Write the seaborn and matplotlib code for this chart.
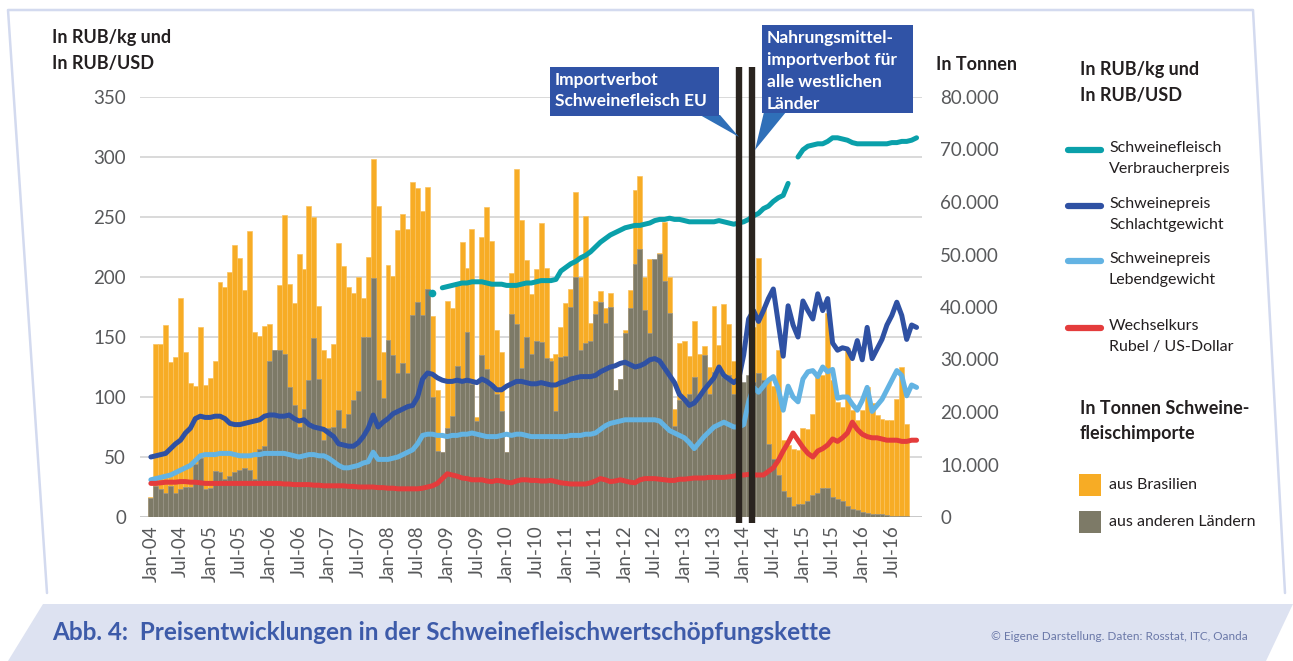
import numpy as np
import pandas as pd
import matplotlib
matplotlib.use("Agg")
import matplotlib.pyplot as plt
from matplotlib.patches import Polygon, Rectangle
import seaborn as sns

nan = np.nan

# Monate Jan-04 .. Dez-16
monate = pd.date_range("2004-01-01", "2016-12-01", freq="MS")
tick_labels = [d.strftime("%b-%y") for d in monate[::6]]

# Schweinefleischimporte in Tsd. Tonnen (je Zeile ein Jahr)
aus_brasilien = [
    3.9, 32.9, 32.9, 36.6, 29.5, 30.4, 41.8, 31.5, 25.6, 24.9, 36.1, 25.1,
    26.5, 29.7, 44.8, 43.9, 46.6, 51.9, 49.4, 43.2, 54.4, 35.2, 34.5, 36.3,
    36.8, 31.8, 44.1, 57.6, 44.3, 40.7, 50.1, 47.3, 59.2, 57.1, 40.2, 31.8,
    30.2, 32.9, 52.1, 47.8, 43.9, 42.7, 45.7, 41.8, 49.6, 68.1, 59.2, 31.5,
    48.0, 45.9, 54.6, 57.8, 54.9, 63.8, 62.6, 58.3, 62.9, 38.2, 24.2, 12.3,
    41.1, 39.8, 44.8, 52.3, 47.5, 54.9, 19.0, 53.3, 59.0, 52.6, 35.7, 31.5,
    12.3, 46.4, 66.3, 56.5, 48.9, 42.5, 47.3, 56.0, 47.5, 30.2, 31.1, 36.1,
    40.7, 43.4, 61.9, 45.7, 57.4, 37.0, 41.1, 43.0, 39.8, 42.7, 24.2, 26.3,
    35.7, 43.2, 62.2, 64.9, 45.7, 49.1, 35.2, 50.3, 56.2, 45.7, 20.6, 33.1,
    33.6, 30.6, 37.3, 31.1, 32.5, 28.6, 40.2, 32.7, 40.5, 36.8, 29.7, 25.4,
    25.6, 25.6, 36.1, 49.4, 40.0, 26.3, 24.9, 31.8, 14.6, 13.7, 13.0, 12.8,
    16.9, 16.7, 19.7, 27.7, 27.0, 38.9, 26.1, 21.9, 21.0, 32.2, 20.3, 18.5,
    20.3, 24.7, 21.7, 19.4, 18.7, 18.5, 18.5, 22.4, 28.6, 17.8, nan, nan,
]
aus_anderen = [
    3.7, 5.9, 5.3, 4.6, 5.9, 4.6, 5.3, 5.7, 5.7, 10.1, 11.2, 5.3,
    5.5, 8.7, 8.5, 7.3, 7.8, 8.5, 8.9, 9.4, 8.9, 7.3, 13.0, 13.5,
    29.7, 31.8, 31.8, 31.1, 24.7, 21.3, 17.1, 20.6, 26.1, 34.1, 26.3, 14.6,
    16.9, 17.1, 20.3, 16.9, 19.7, 22.2, 24.0, 34.3, 34.3, 45.5, 26.1, 22.6,
    33.8, 30.9, 27.4, 29.3, 27.4, 38.4, 40.9, 38.4, 43.4, 22.9, 12.6, 12.3,
    16.9, 19.2, 28.8, 26.1, 35.2, 25.4, 18.3, 30.9, 28.1, 25.4, 23.5, 20.1,
    12.3, 38.6, 36.8, 28.3, 34.3, 31.1, 33.6, 33.4, 30.2, 29.7, 20.1, 30.4,
    30.6, 40.0, 45.7, 31.8, 33.1, 33.6, 38.6, 40.9, 37.0, 40.0, 24.2, 26.3,
    35.0, 39.8, 48.2, 51.0, 39.5, 35.0, 49.1, 50.1, 45.0, 38.9, 17.4, 22.2,
    22.6, 23.5, 26.7, 23.5, 30.9, 23.5, 27.7, 27.7, 26.7, 27.0, 23.5, 25.8,
    25.8, 27.0, 25.8, 27.4, 26.1, 13.9, 11.0, 8.0, 5.0, 3.9, 2.1, 2.5,
    2.5, 3.0, 4.1, 4.6, 5.5, 5.5, 3.9, 3.4, 3.0, 2.1, 1.6, 1.4,
    0.9, 0.7, 0.6, 0.5, 0.5, 0.3, 0.2, 0.1, 0.1, 0.1, nan, nan,
]

# Preise in RUB/kg bzw. Kurs RUB/USD
verbraucherpreis = [nan] * 48 + [
    nan, nan, nan, nan, nan, nan, nan, nan, nan, 187, nan, 191,
    192, 193, 194, 195, 195, 196, 196, 196, 195, 194, 194, 194,
    193, 193, 193, 194, 195, 195, 196, 197, 197, 197, 198, 205,
    208, 211, 213, 216, 218, 221, 225, 229, 232, 235, 237, 239,
    241, 242, 243, 243, 244, 245, 247, 248, 248, 249, 248, 248,
    247, 246, 246, 246, 246, 246, 246, 247, 246, 245, 244, 245,
    246, 248, 251, 253, 257, 259, 263, 266, 268, 278, nan, 300,
    306, 309, 310, 311, 311, 313, 316, 316, 315, 314, 312, 311,
    311, 311, 311, 311, 311, 311, 312, 312, 313, 313, 314, 316,
]
schlachtgewicht = [
    50, 51, 52, 53, 57, 61, 64, 70, 74, 82, 84, 83,
    83, 84, 84, 82, 78, 77, 77, 78, 79, 80, 81, 84,
    85, 85, 84, 84, 85, 82, 80, 81, 77, 75, 74, 73,
    70, 67, 61, 60, 59, 59, 62, 67, 74, 85, 75, 79,
    82, 86, 88, 90, 92, 93, 100, 115, 120, 119, 116, 114,
    113, 113, 114, 113, 114, 113, 112, 115, 113, 110, 106, 106,
    109, 111, 113, 113, 112, 111, 111, 112, 111, 110, 110, 112,
    113, 115, 116, 117, 117, 117, 118, 121, 123, 125, 126, 128,
    129, 127, 125, 126, 128, 131, 132, 130, 124, 118, 112, 102,
    98, 93, 95, 100, 106, 111, 116, 125, 118, 115, 112, 115,
    135, 165, 172, 163, 172, 182, 190, 162, 134, 176, 160, 150,
    180, 172, 165, 186, 172, 182, 145, 139, 141, 140, 132, 147,
    131, 158, 132, 140, 148, 160, 168, 179, 168, 148, 160, 158,
]
lebendgewicht = [
    31, 32, 33, 34, 35, 37, 39, 41, 43, 47, 51, 52,
    52, 52, 53, 53, 53, 52, 51, 51, 51, 52, 52, 53,
    53, 53, 53, 53, 52, 51, 50, 51, 52, 52, 51, 51,
    49, 46, 43, 41, 41, 42, 43, 45, 46, 54, 48, 48,
    48, 49, 50, 52, 54, 56, 61, 68, 69, 69, 68, 68,
    67, 68, 68, 69, 69, 70, 69, 68, 67, 67, 67, 68,
    69, 68, 69, 69, 68, 67, 67, 67, 67, 67, 67, 67,
    67, 68, 68, 68, 69, 69, 70, 73, 76, 78, 79, 80,
    81, 81, 81, 81, 81, 81, 81, 80, 76, 72, 70, 68,
    66, 62, 57, 62, 67, 71, 75, 77, 79, 77, 75, 75,
    77, 96, 108, 104, 109, 114, 117, 107, 89, 109, 100, 96,
    115, 121, 122, 117, 125, 121, 123, 99, 100, 100, 94, 89,
    97, 108, 88, 93, 98, 106, 114, 122, 118, 101, 110, 108,
]
wechselkurs = [
    28, 28, 28.5, 29, 29, 29, 29.5, 29.5, 29, 29, 28.5, 28,
    28, 28, 28, 28, 28, 28, 28, 28, 28, 28, 28, 28,
    28, 28, 28, 27.5, 27.5, 27, 27, 27, 27, 26.5, 26.5, 26,
    26, 26, 26, 26, 25.5, 25.5, 25, 25, 25, 25, 24.5, 24.5,
    24, 24, 23.5, 23.5, 23.5, 23.5, 23.5, 24, 25, 26, 28, 32,
    36, 35, 34, 32.5, 32, 31, 31, 31, 30, 29.5, 30.5, 30,
    29, 28.5, 30, 31, 31, 30.5, 30.5, 30, 30, 30.5, 29.5, 28.5,
    28, 27.5, 27.5, 27.5, 27.5, 28.5, 30, 32, 31, 29.5, 30, 31,
    30, 29, 28.5, 31, 32, 32, 32, 31.5, 31, 30.5, 30.5, 31.5,
    31.5, 32, 32.5, 32.5, 32.5, 33, 33, 33, 33, 33.5, 34, 35,
    35, 35.5, 35, 35, 35, 38, 41, 47, 55, 62, 70, 64,
    58, 53, 50, 55, 57, 60, 65, 63, 66, 70, 79, 73,
    69, 67, 66, 66, 65, 64, 64, 64, 63, 63, 64, 64,
]

# Ereignisse (Position in Monaten ab Jan-04)
ereignis_pos = [119.1, 121.7]

linien = [
    ("Schweinefleisch\nVerbraucherpreis", verbraucherpreis, "#0aa0aa"),
    ("Schweinepreis\nSchlachtgewicht", schlachtgewicht, "#2f51a3"),
    ("Schweinepreis\nLebendgewicht", lebendgewicht, "#63b3e3"),
    ("Wechselkurs\nRubel / US-Dollar", wechselkurs, "#e43c3c"),
]
ORANGE = "#f7ac25"
GRAU = "#7d7a67"
BOX = "#3053a6"
TEXT = "#231f20"
TICK = "#58595b"

sns.set_style("white")
plt.rcParams["font.family"] = ["Lato", "DejaVu Sans"]

W, H = 1293, 661
fig = plt.figure(figsize=(W / 100, H / 100), dpi=100)


def fx(x):
    return x / W


def fy(y):
    return 1 - y / H


n = len(monate)
idx = np.arange(n)

# Balken (Tonnen) auf der unteren Achse, Skala rechts
ax = fig.add_axes([fx(140), fy(517), fx(922) - fx(140), fy(97) - fy(517)])
df_bars = pd.DataFrame({
    "monat": idx,
    "brasilien": np.array(aus_brasilien) * 1000,
    "andere": np.array(aus_anderen) * 1000,
})
sns.barplot(data=df_bars, x="monat", y="brasilien", native_scale=True, width=1.0,
            color=ORANGE, saturation=1, edgecolor="#fac25e", linewidth=0.5,
            errorbar=None, ax=ax, zorder=2)
sns.barplot(data=df_bars, x="monat", y="andere", native_scale=True, width=1.0,
            color=GRAU, saturation=1, edgecolor="#98958a", linewidth=0.5,
            errorbar=None, ax=ax, zorder=3)

ax.set_xlim(-2.2, 156.1)
ax.set_ylim(0, 80000)
t_per_rub = 80000 / 350
for v in range(0, 351, 50):
    ax.axhline(v * t_per_rub, color="#d9d9d9" if v else "#c8c8c8", lw=1.4, zorder=1)
ax.set_xticks(idx[::6])
ax.set_xticklabels(tick_labels, rotation=90)
ax.tick_params(axis="x", length=0, pad=6, labelsize=13.5, labelcolor=TICK)
ax.set_xlabel("")
ax.set_ylabel("")
for s in ax.spines.values():
    s.set_visible(False)

# Linien (RUB) auf der Zwillingsachse, Skala links
ax2 = ax.twinx()
ax2.set_ylim(0, 350)
ax2.yaxis.tick_left()
ax2.set_yticks(range(0, 351, 50))
ax2.tick_params(axis="y", length=0, pad=10, labelsize=13.5, labelcolor=TICK)
for s in ax2.spines.values():
    s.set_visible(False)

# Tonnen-Skala rechts (nach twinx setzen)
ax.yaxis.tick_right()
ax.set_yticks(range(0, 80001, 10000))
ax.set_yticklabels([f"{v:,}".replace(",", ".") for v in range(0, 80001, 10000)])
ax.tick_params(axis="y", length=0, pad=13, labelsize=13.5, labelcolor=TICK)

for name, werte, farbe in linien:
    s = pd.Series(werte, index=idx, dtype=float)
    gruppen = s.isna().cumsum()[s.notna()]
    for _, teil in s.dropna().groupby(gruppen):
        if len(teil) == 1:
            ax2.plot(teil.index, teil.values, "o", ms=4.5, color=farbe)
        else:
            sns.lineplot(x=teil.index, y=teil.values, ax=ax2, color=farbe, lw=3.6,
                         solid_capstyle="round", estimator=None)
ax2.set_ylabel("")
ax2.set_xlim(-2.2, 156.1)

ax2.vlines(ereignis_pos, -5, 375, color="#2a241f", lw=4.6, clip_on=False, zorder=5)

# Overlay in Pixelkoordinaten fuer Rahmen, Legende und Beschriftung
ov = fig.add_axes([0, 0, 1, 1])
ov.set_xlim(0, W)
ov.set_ylim(H, 0)
ov.axis("off")

ov.plot([47, 8, 1253, 1285], [593, 10, 10, 593], color="#d3daef", lw=1.8)
ov.add_patch(Polygon([(43, 604), (1293, 604), (1266, 661), (8, 661)],
                     closed=True, color="#dde2f1", lw=0))
ov.text(52, 633, "Abb. 4:  Preisentwicklungen in der Schweinefleischwertschöpfungskette",
        fontsize=17.5, fontweight="bold", color="#3d5ba9", va="center")
ov.text(1248, 636, "© Eigene Darstellung. Daten: Rosstat, ITC, Oanda",
        fontsize=8.5, color="#6a78a8", va="center", ha="right")


def zeilen(x, y0, text, dy, **kw):
    for i, t in enumerate(text.split("\n")):
        ov.text(x, y0 + i * dy, t, va="center", **kw)


zeilen(52, 38, "In RUB/kg und\nIn RUB/USD", 25, fontsize=13, fontweight="bold", color=TEXT)
zeilen(936, 64, "In Tonnen", 25, fontsize=13, fontweight="bold", color=TEXT)

# Legende
zeilen(1080, 70, "In RUB/kg und\nIn RUB/USD", 25, fontsize=13, fontweight="bold", color=TEXT)
for (name, _, farbe), y in zip(linien, [148, 204, 259, 326]):
    ov.plot([1068, 1101], [y + 2, y + 2], color=farbe, lw=4.5, solid_capstyle="round")
    zeilen(1109, y, name, 21, fontsize=11.5, color=TEXT)
zeilen(1080, 408, "In Tonnen Schweine-\nfleischimporte", 25, fontsize=13, fontweight="bold", color=TEXT)
for (label, farbe), y in zip([("aus Brasilien", ORANGE), ("aus anderen Ländern", GRAU)], [485, 522]):
    ov.add_patch(Rectangle((1079, y - 11), 22, 22, color=farbe, lw=0))
    ov.text(1109, y, label, va="center", fontsize=11.5, color=TEXT)

# Hinweiskaesten
ov.add_patch(Polygon([(700, 115), (720, 115), (739, 137)], closed=True, color="#2f6fb8", lw=0))
ov.add_patch(Rectangle((550, 67), 169, 49, color=BOX, lw=0))
zeilen(555, 80, "Importverbot\nSchweinefleisch EU", 21, fontsize=12.5, fontweight="bold", color="white")
ov.add_patch(Polygon([(764, 112), (786, 112), (755, 150)], closed=True, color="#2f6fb8", lw=0))
ov.add_patch(Rectangle((762, 25), 151, 88, color=BOX, lw=0))
zeilen(767, 38, "Nahrungsmittel-\nimportverbot für\nalle westlichen\nLänder", 22,
       fontsize=12.5, fontweight="bold", color="white")

fig.savefig("out.png", dpi=100)
